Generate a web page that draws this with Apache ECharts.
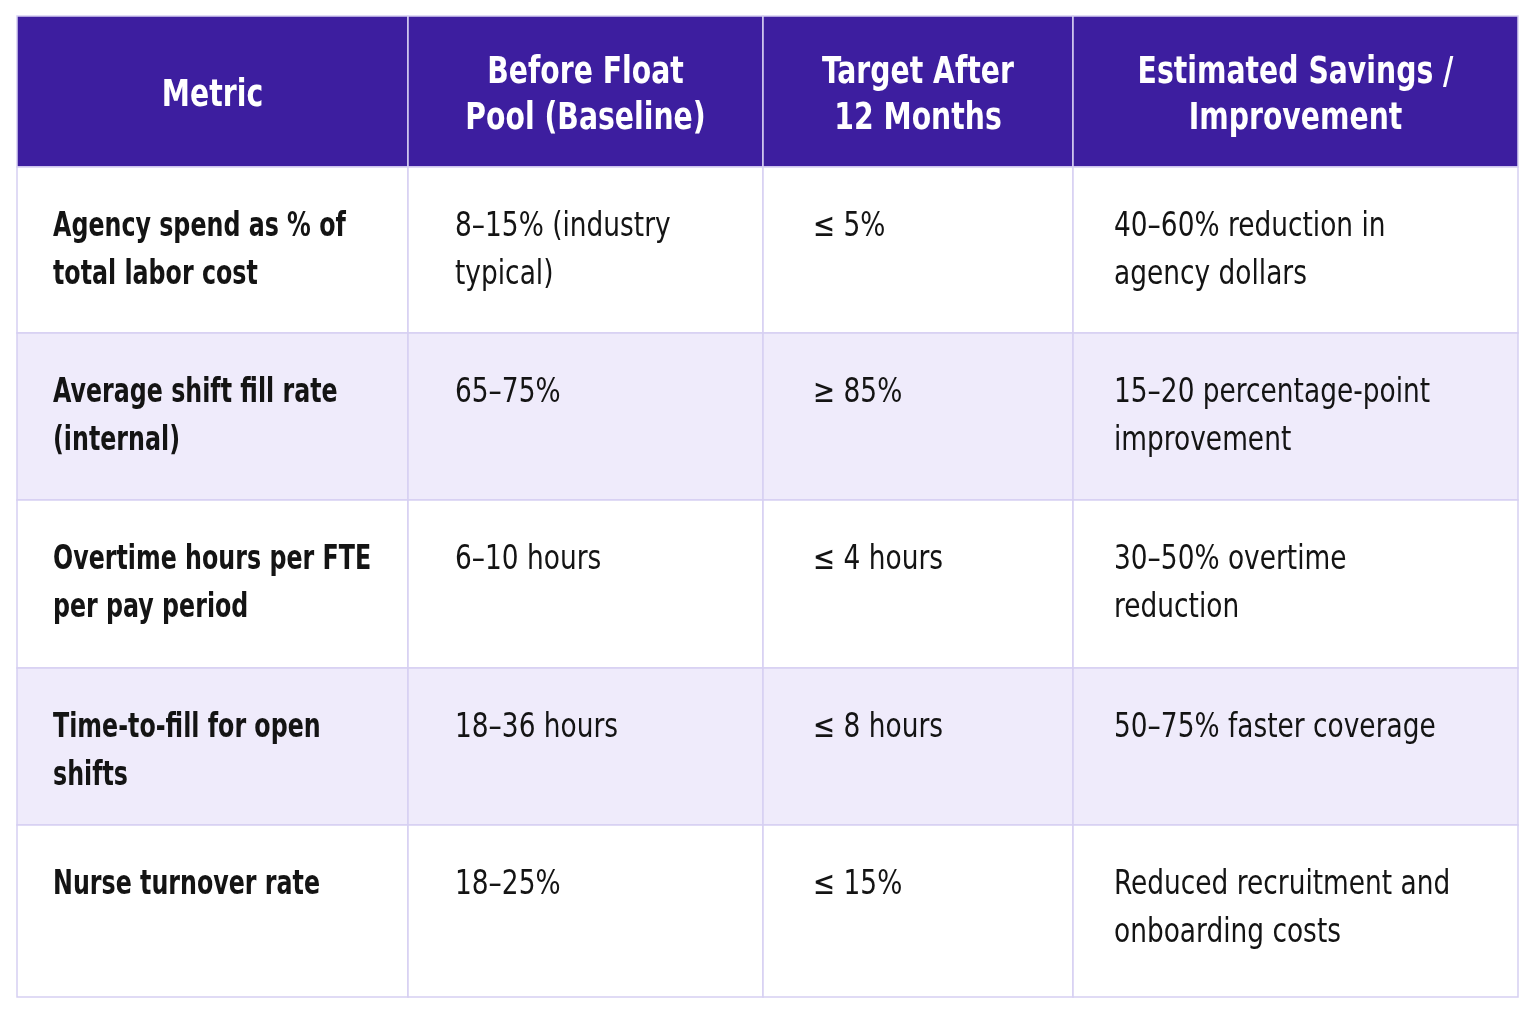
<!DOCTYPE html>
<html>
<head>
<meta charset="utf-8">
<title>Float Pool Metrics</title>
<script src="https://cdn.jsdelivr.net/npm/echarts@6/dist/echarts.min.js"></script>
<style>
  html, body { margin: 0; padding: 0; background: #fff; }
  #table { width: 1535px; height: 1024px; }
</style>
</head>
<body>
<div id="table"></div>
<script>
// 表头
var columns = ['Metric', 'Before Float\nPool (Baseline)', 'Target After\n12 Months', 'Estimated Savings /\nImprovement'];

// 各列内容
var metrics = [
    'Agency spend as % of\ntotal labor cost',
    'Average shift fill rate\n(internal)',
    'Overtime hours per FTE\nper pay period',
    'Time-to-fill for open\nshifts',
    'Nurse turnover rate'
];
var baseline = ['8–15% (industry\ntypical)', '65–75%', '6–10 hours', '18–36 hours', '18–25%'];
var target = ['≤ 5%', '≥ 85%', '≤ 4 hours', '≤ 8 hours', '≤ 15%'];
var savings = [
    '40–60% reduction in\nagency dollars',
    '15–20 percentage-point\nimprovement',
    '30–50% overtime\nreduction',
    '50–75% faster coverage',
    'Reduced recruitment and\nonboarding costs'
];

// 布局: 列宽 / 行高 (像素)
var colWidths = [391, 355, 310, 445];
var rowHeights = [151, 166, 167, 168, 157, 172];
var colPad = [36, 47, 50, 41];

function edges(sizes) {
    var out = [0];
    for (var i = 0; i < sizes.length; i++) out.push(out[i] + sizes[i]);
    return out;
}
var colEdges = edges(colWidths);
var rowEdges = edges(rowHeights);

// 单元格数据 [列, 行, 文字]
var cells = [];
var bodyCols = [metrics, baseline, target, savings];
for (var c = 0; c < columns.length; c++) {
    cells.push([c, 0, columns[c]]);
    for (var r = 0; r < metrics.length; r++) {
        cells.push([c, r + 1, bodyCols[c][r]]);
    }
}

// 没有窄体字, 用横向缩放模拟
var FONT = "'DejaVu Sans Condensed', 'DejaVu Sans', sans-serif";

function renderCell(params, api) {
    var c = api.value(0), r = api.value(1);
    var text = cells[params.dataIndex][2];
    var p0 = api.coord([colEdges[c], rowEdges[r]]);
    var p1 = api.coord([colEdges[c + 1], rowEdges[r + 1]]);
    var x = p0[0], y = p0[1], w = p1[0] - p0[0], h = p1[1] - p0[1];
    var isHead = r === 0;
    var fill = isHead ? '#3d1e9f' : (r % 2 === 0 ? '#efebfb' : '#ffffff');

    var label = isHead ? {
        type: 'text',
        x: x + w / 2, y: y + h / 2 + 5,
        scaleX: 0.85,
        style: {
            text: text, x: 0, y: 0,
            align: 'center', verticalAlign: 'middle',
            fill: '#ffffff', font: 'bold 37px ' + FONT, lineHeight: 46
        }
    } : {
        type: 'text',
        x: x + colPad[c], y: y + 36,
        scaleX: c === 0 ? 0.8 : 0.89,
        style: {
            text: text, x: 0, y: 0,
            align: 'left', verticalAlign: 'top',
            fill: '#141414', font: (c === 0 ? 'bold ' : '') + '33px ' + FONT, lineHeight: 48
        }
    };

    return {
        type: 'group',
        children: [{
            type: 'rect',
            shape: { x: x, y: y, width: w, height: h },
            style: { fill: fill, stroke: '#d6d0f2', lineWidth: 1.5 }
        }, label]
    };
}

var chart = echarts.init(document.getElementById('table'));
var option = {
    animation: false,
    grid: { left: 17, top: 16, width: 1501, height: 981 },
    xAxis: { type: 'value', min: 0, max: colEdges[colEdges.length - 1], show: false },
    yAxis: { type: 'value', min: 0, max: rowEdges[rowEdges.length - 1], inverse: true, show: false },
    series: [{
        type: 'custom',
        renderItem: renderCell,
        encode: { x: 0, y: 1 },
        data: cells.map(function (d) { return [d[0], d[1]]; })
    }]
};
chart.setOption(option);
</script>
</body>
</html>
